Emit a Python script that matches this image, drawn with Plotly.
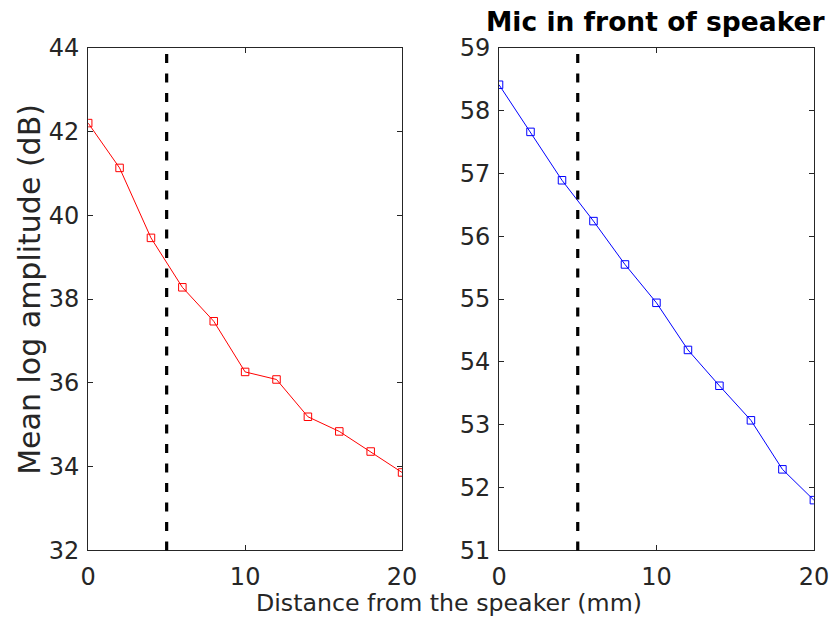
import plotly.graph_objects as go

# Measurement positions (mm from the speaker)
distance_mm = [0, 2, 4, 6, 8, 10, 12, 14, 16, 18, 20]

# Mean log amplitude (dB) for the two microphones
left_mic_db = [42.20, 41.13, 39.46, 38.28, 37.47, 36.26, 36.08, 35.19, 34.84, 34.36, 33.86]
front_mic_db = [58.41, 57.66, 56.89, 56.24, 55.55, 54.94, 54.19, 53.62, 53.07, 52.29, 51.80]

# Reference distance marked with a dashed line
marker_distance = 5

left_y_ticks = [32, 34, 36, 38, 40, 42, 44]
right_y_ticks = [51, 52, 53, 54, 55, 56, 57, 58, 59]
x_ticks = [0, 10, 20]

FONT = "DejaVu Sans"
AXIS_COLOR = "#262626"

# Positions are given on an 831x620 design grid; the page shows that grid at
# a 0.973 x 0.96 scale and the body keeps its default 8px margin.
PAGE_MARGIN = 8
SCALE_X, SCALE_Y = 0.973, 0.96
FIG_W, FIG_H = 840, 632


def px_x(gx):
    return ((gx + 1) / SCALE_X - PAGE_MARGIN) / FIG_W


def px_y(gy):
    return 1 - ((gy - 3.5) / SCALE_Y - PAGE_MARGIN) / FIG_H


fig = go.Figure()

fig.add_trace(go.Scatter(
    x=distance_mm, y=left_mic_db, mode="lines+markers",
    line=dict(color="#ff0000", width=1),
    marker=dict(symbol="square-open", size=7.5, color="#ff0000", line=dict(width=1)),
    xaxis="x", yaxis="y", showlegend=False,
))
fig.add_trace(go.Scatter(
    x=distance_mm, y=front_mic_db, mode="lines+markers",
    line=dict(color="#0000ff", width=1),
    marker=dict(symbol="square-open", size=7.5, color="#0000ff", line=dict(width=1)),
    xaxis="x2", yaxis="y2", showlegend=False,
))

for xref, yref in (("x", "y domain"), ("x2", "y2 domain")):
    fig.add_shape(type="line", xref=xref, yref=yref,
                  x0=marker_distance, x1=marker_distance, y0=0, y1=1,
                  line=dict(color="black", width=3.2, dash="9px,10.5px"))

axis_common = dict(
    showline=True, linecolor=AXIS_COLOR, linewidth=1, mirror="ticks",
    ticks="inside", ticklen=5, tickcolor=AXIS_COLOR, showgrid=False,
    zeroline=False, tickfont=dict(family=FONT, size=24, color=AXIS_COLOR),
)

y_dom = [px_y(550), px_y(45)]

fig.update_layout(
    width=FIG_W, height=FIG_H,
    margin=dict(l=0, r=0, t=0, b=0),
    paper_bgcolor="white", plot_bgcolor="white",
    font=dict(family=FONT, color=AXIS_COLOR),
    xaxis=dict(domain=[px_x(87), px_x(401)], range=[0, 20], tickvals=x_ticks,
               anchor="y", ticklabelstandoff=5, **axis_common),
    yaxis=dict(domain=y_dom, range=[32, 44], tickvals=left_y_ticks,
               anchor="x", ticklabelstandoff=3, **axis_common),
    xaxis2=dict(domain=[px_x(498), px_x(813)], range=[0, 20], tickvals=x_ticks,
                anchor="y2", ticklabelstandoff=5, **axis_common),
    yaxis2=dict(domain=y_dom, range=[51, 59], tickvals=right_y_ticks,
                anchor="x2", ticklabelstandoff=3, **axis_common),
    annotations=[
        dict(text="<b>Mic in front of speaker</b>", xref="paper", yref="paper",
             x=px_x(655), y=px_y(19), xanchor="center", yanchor="middle",
             showarrow=False, font=dict(family=FONT, size=26.5, color="black")),
        dict(text="Distance from the speaker (mm)", xref="paper", yref="paper",
             x=px_x(448), y=px_y(603), xanchor="center", yanchor="middle",
             showarrow=False, font=dict(family=FONT, size=23.7, color=AXIS_COLOR)),
        dict(text="Mean log amplitude (dB)", xref="paper", yref="paper",
             x=px_x(28), y=px_y(288), xanchor="center", yanchor="middle",
             textangle=-90, showarrow=False,
             font=dict(family=FONT, size=30, color=AXIS_COLOR)),
    ],
)

fig.write_html("out.html")
